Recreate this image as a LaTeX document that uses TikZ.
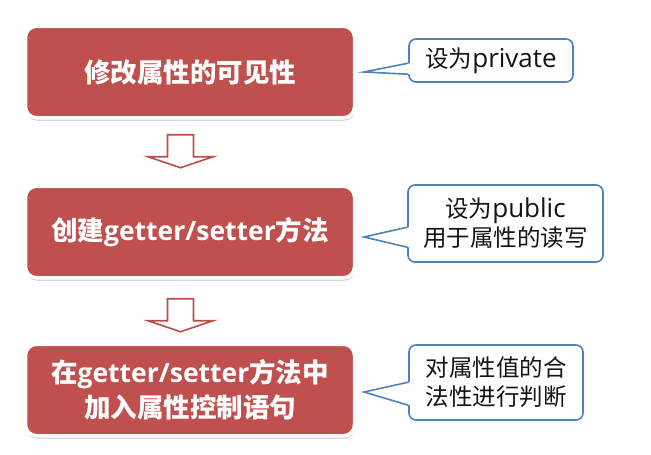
\documentclass[tikz,border=0pt]{standalone}
\usepackage{fontspec}
\setmainfont{Open Sans}
\newfontfamily\cjk{Noto Sans CJK SC}
\usetikzlibrary{shadows,calc}
\definecolor{boxred}{HTML}{C0504D}
\definecolor{arrred}{HTML}{B94E4A}
\definecolor{cblue}{HTML}{4F81BD}
\definecolor{ctext}{HTML}{141414}
\newcommand\zhb[1]{{\cjk\bfseries #1}}
\newcommand\zhs[1]{{\fontsize{23.5}{29}\selectfont\cjk #1}}
\begin{document}
\begin{tikzpicture}[x=1pt,y=-1pt,
  redbox/.style={rectangle, rounded corners=11pt, fill=boxred, draw=white,
    line width=3.5pt, minimum width=329pt, minimum height=91.5pt, inner sep=0pt,
    text=white, font=\fontsize{26.5}{35}\selectfont\bfseries, align=center,
    drop shadow={shadow xshift=0.5pt, shadow yshift=-3pt, opacity=0.3}},
  calloutbox/.style={rectangle, rounded corners=7pt, draw=cblue, line width=1.6pt,
    fill=white, inner sep=0pt, text=ctext, font=\fontsize{26}{29}\selectfont, align=center},
  wedgeline/.style={draw=cblue, line width=1.6pt, line join=miter},
  hollowarrow/.style={draw=arrred, line width=1.6pt, fill=white, line join=miter}
]
\useasboundingbox (0,0) rectangle (651,455);
\fill[white] (0,0) rectangle (651,455);

% main boxes
\node[redbox] (b1) at (190,72) {\zhb{修改属性的可见性}};
\node[redbox] (b2) at (190,232) {\zhb{创建}getter/setter\zhb{方法}};
\node[redbox] (b3) at (190,390) {\zhb{在}getter/setter\zhb{方法中}\\\zhb{加入属性控制语句}};

% hollow arrows
\coordinate (a1) at ($(b1.south)+(-9.5,15.25)$);
\coordinate (a2) at ($(b2.south)+(-9.5,19.25)$);
\foreach \a in {a1,a2}{
  \draw[hollowarrow] (\a) +(-13,0) -- +(-13,22) -- +(-32.5,22) -- +(0,33)
    -- +(32.5,22) -- +(13,22) -- +(13,0) -- cycle;
}

% callouts
\node[calloutbox, minimum width=164pt, minimum height=43pt] (c1) at (491,60.5)
  {\zhs{设为}private};
\node[calloutbox, minimum width=195pt, minimum height=77pt] (c2) at (505.5,223.5)
  {\zhs{设为}public\\\zhs{用于属性的读写}};
\node[calloutbox, minimum width=174pt, minimum height=75pt] (c3) at (496,382.5)
  {\zhs{对属性值的合}\\\zhs{法性进行判断}};

\coordinate (t1) at (364,72);
\coordinate (t2) at (364,237);
\coordinate (t3) at (364,392);

% wedges
\fill[white] ($(c1.north west)+(2,25)$) -- (t1) -- ($(c1.north west)+(2,36)$) -- cycle;
\draw[wedgeline] ($(c1.north west)+(0,25)$) -- (t1) -- ($(c1.north west)+(0,36)$);
\fill[white] ($(c2.north west)+(2,43)$) -- (t2) -- ($(c2.north west)+(2,63)$) -- cycle;
\draw[wedgeline] ($(c2.north west)+(0,43)$) -- (t2) -- ($(c2.north west)+(0,63)$);
\fill[white] ($(c3.north west)+(2,38)$) -- (t3) -- ($(c3.north west)+(2,61)$) -- cycle;
\draw[wedgeline] ($(c3.north west)+(0,38)$) -- (t3) -- ($(c3.north west)+(0,61)$);
\end{tikzpicture}
\end{document}
